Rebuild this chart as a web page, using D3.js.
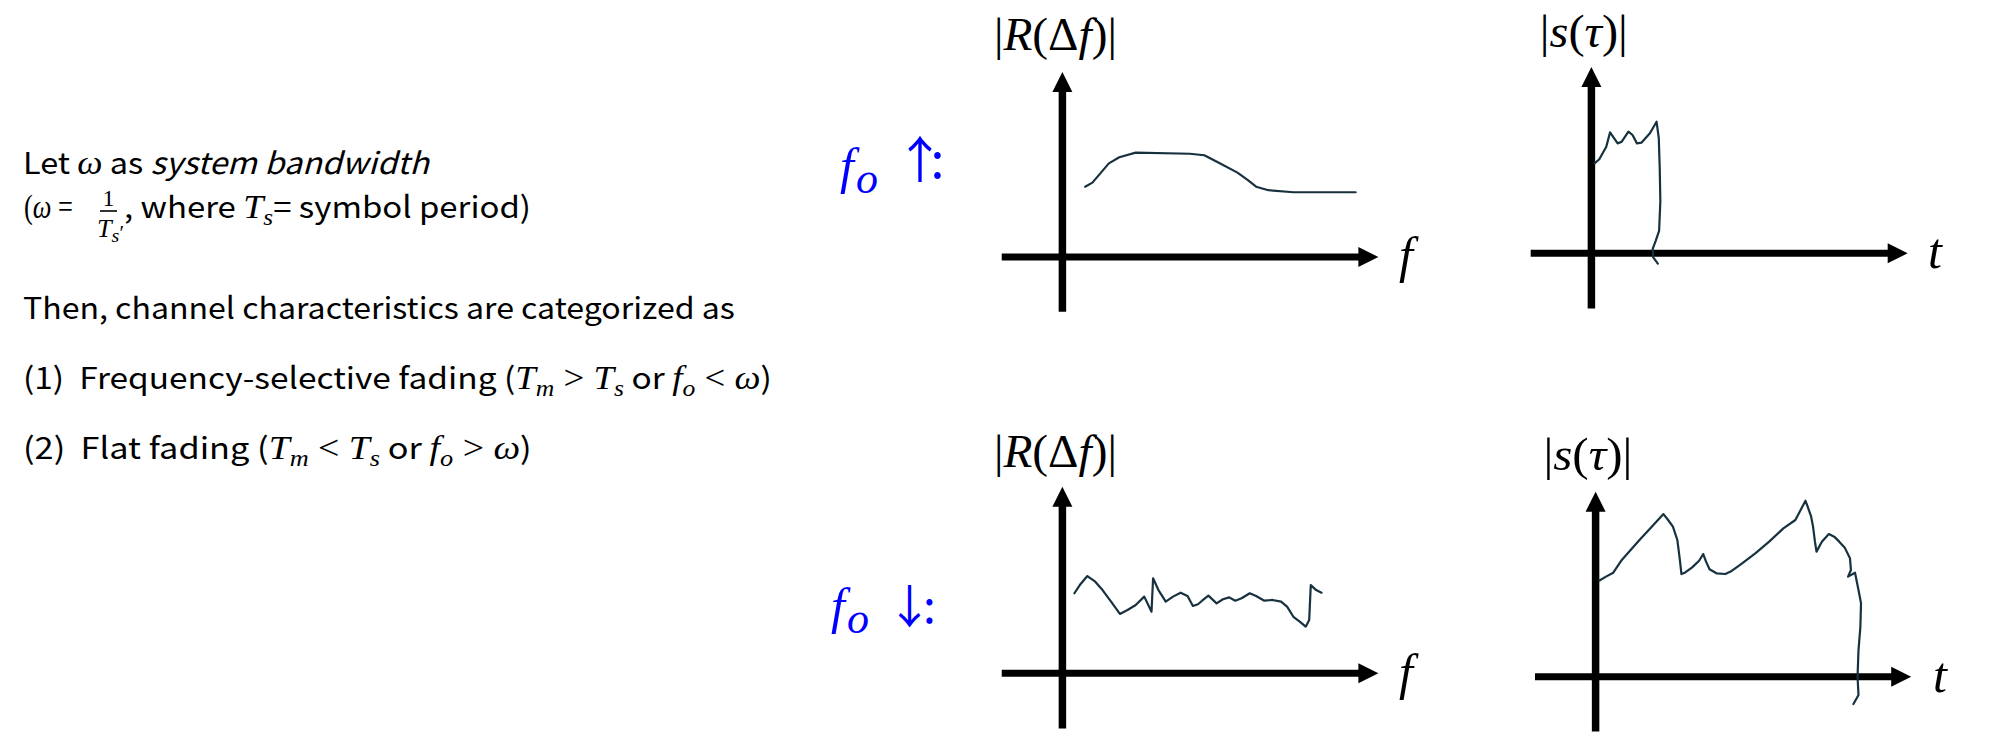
<!DOCTYPE html>
<html><head><meta charset="utf-8">
<script src="https://cdn.jsdelivr.net/npm/d3@7"></script>
<style>html,body{margin:0;padding:0;background:#fff;overflow:hidden}svg{display:block}</style>
</head><body>
<script>
// ---------- DATA (axis units: 0..100 along each axis, origin at the axes crossing) ----------
const upR_x = [7.2, 9.5, 14.7, 18.0, 23.2, 40.3, 44.9, 49.5, 55.4, 58.7, 61.3, 65.2, 73.1, 92.8];
const upR_y = [38.0, 40.2, 50.6, 53.9, 56.4, 55.8, 55.0, 51.0, 45.6, 41.6, 38.0, 36.1, 35.0, 35.0];

const upS_x = [1.0, 2.5, 4.7, 5.9, 8.3, 9.6, 11.7, 13.0, 14.4, 15.8, 18.5, 20.6, 21.3, 21.6, 21.8, 21.4, 20.3, 19.4, 19.5, 21.0];
const upS_y = [48.3, 50.5, 57.2, 64.9, 59.0, 59.9, 65.3, 63.5, 59.0, 59.4, 64.4, 70.6, 62.0, 46.0, 28.0, 12.0, 6.5, 2.5, -2.0, -5.5];

const downR_x = [3.8, 5.5, 7.9, 10.4, 12.7, 15.4, 18.2, 20.6, 23.2, 25.9, 28.2, 28.7, 30.4, 32.7, 35.0, 37.4, 39.6, 41.3, 42.9, 44.2, 46.2, 48.8, 50.8, 52.8, 54.7, 56.7, 59.3, 61.3, 63.9, 66.5, 69.2, 71.1, 73.1, 75.1, 77.0, 78.1, 78.6, 80.3, 82.0];
const downR_y = [42.9, 47.3, 52.1, 49.1, 44.6, 38.4, 31.8, 33.9, 36.6, 41.1, 33.0, 50.9, 44.6, 38.4, 41.1, 43.2, 41.4, 36.1, 37.0, 38.9, 41.6, 37.5, 39.7, 40.7, 38.9, 40.2, 42.9, 41.4, 38.9, 39.3, 38.4, 35.7, 30.3, 27.7, 25.0, 28.6, 47.3, 44.6, 43.2];

const downS_x = [1.1, 3.3, 5.6, 8.3, 11.1, 13.9, 17.8, 21.5, 22.8, 24.5, 25.9, 26.7, 27.2, 28.3, 30.6, 32.8, 34.1, 35.0, 36.1, 38.3, 41.1, 42.8, 46.1, 50.6, 55.0, 59.5, 63.3, 66.5, 67.2, 68.3, 68.9, 69.5, 70.0, 71.7, 73.9, 75.6, 77.2, 78.9, 80.6, 80.9, 80.0, 82.2, 83.3, 84.1, 83.9, 83.3, 83.0, 83.3, 81.7];
const downS_y = [51.9, 54.1, 56.2, 63.1, 68.5, 73.9, 81.1, 87.9, 85.1, 81.1, 73.9, 63.1, 55.5, 56.2, 59.1, 62.7, 66.3, 62.2, 58.1, 55.9, 55.5, 56.8, 60.9, 66.7, 73.0, 80.2, 84.7, 95.1, 91.9, 86.5, 81.1, 73.0, 67.6, 73.0, 77.1, 75.7, 73.0, 69.9, 64.0, 57.7, 54.1, 56.2, 46.9, 39.7, 27.0, 14.4, 0, -9.9, -14.8];

const yLabels = ["|R(Δf)|", "|s(τ)|", "|R(Δf)|", "|s(τ)|"];
const xLabels = ["f", "t", "f", "t"];
const rowLabels = ["↑:", "↓:"];

// ---------- LAYOUT ----------
const W = 2000, H = 733;
const svg = d3.select("body").append("svg").attr("width", W).attr("height", H);
svg.append("rect").attr("width", W).attr("height", H).attr("fill", "#fff");

const SANS = "'Noto Sans CJK KR','Noto Sans',sans-serif";
const SERIF = "'Liberation Serif','DejaVu Serif',serif";
const INK = "#17313f";
const BLUE = "#0000ff";

function rich(x, y, parts, opt) {
  const t = svg.append("text").attr("x", x).attr("y", y)
    .style("white-space", "pre").attr("fill", opt.fill || "#000");
  parts.forEach(p => {
    const s = t.append("tspan").text(p.t)
      .attr("font-family", p.m ? SERIF : SANS)
      .attr("font-size", p.s || (p.m ? opt.ms : opt.ts));
    if (p.i) s.attr("font-style", "italic");
    if (p.b) s.attr("font-weight", "bold");
    if (p.x !== undefined) s.attr("x", p.x);
    if (p.y !== undefined) s.attr("y", p.y);
    if (p.dy) s.attr("dy", p.dy);
    if (p.dx) s.attr("dx", p.dx);
  });
  if (opt.w) {
    const bb = t.node().getBBox();
    const k = opt.w / bb.width;
    const L = opt.cx !== undefined ? opt.cx - opt.w / 2 : x;
    t.attr("transform", `translate(${L - k * bb.x},0) scale(${k},1)`);
  }
  return t;
}

// ---------- LEFT TEXT ----------
const TS = 30, MS = 33, SS = 23, SD = 7;
rich(23, 174, [{t: "Let "}, {t: "ω", m: 1, i: 1}, {t: " as "}, {t: "system bandwidth", i: 1}],
  {ts: TS, ms: MS, w: 408});

// line 2 with fraction
rich(24, 218, [{t: "(", m: 1, s: 33}, {t: "ω", m: 1, i: 1}, {t: " =", m: 1}], {ts: TS, ms: MS, w: 49});
svg.append("text").attr("x", 108.5).attr("y", 206).attr("text-anchor", "middle")
  .attr("font-family", SERIF).attr("font-size", 24).text("1");
svg.append("line").attr("x1", 100).attr("x2", 117).attr("y1", 211).attr("y2", 211)
  .attr("stroke", "#000").attr("stroke-width", 1.6);
rich(97, 237, [{t: "T", m: 1, i: 1}, {t: "s", m: 1, i: 1, s: 19, dy: 5}, {t: "′", m: 1, s: 20, dy: -2}], {ts: TS, ms: 25, w: 27});
rich(124, 218, [{t: ", where "}, {t: "T", m: 1, i: 1}, {t: "s", m: 1, i: 1, s: SS, dy: SD}, {t: "= symbol period)", dy: -SD}],
  {ts: TS, ms: MS, w: 407});

rich(23, 319, [{t: "Then, channel characteristics are categorized as"}], {ts: TS, ms: MS, w: 712});

rich(23, 389, [{t: "(1)  Frequency-selective fading ("},
  {t: "T", m: 1, i: 1}, {t: "m", m: 1, i: 1, s: SS, dy: SD}, {t: " > ", m: 1, dy: -SD},
  {t: "T", m: 1, i: 1}, {t: "s", m: 1, i: 1, s: SS, dy: SD}, {t: " or ", dy: -SD},
  {t: "f", m: 1, i: 1}, {t: "o", m: 1, i: 1, s: SS, dy: SD}, {t: " < ", m: 1, dy: -SD},
  {t: "ω", m: 1, i: 1}, {t: ")"}], {ts: TS, ms: MS, w: 749});

rich(23, 459, [{t: "(2)  Flat fading ("},
  {t: "T", m: 1, i: 1}, {t: "m", m: 1, i: 1, s: SS, dy: SD}, {t: " < ", m: 1, dy: -SD},
  {t: "T", m: 1, i: 1}, {t: "s", m: 1, i: 1, s: SS, dy: SD}, {t: " or ", dy: -SD},
  {t: "f", m: 1, i: 1}, {t: "o", m: 1, i: 1, s: SS, dy: SD}, {t: " > ", m: 1, dy: -SD},
  {t: "ω", m: 1, i: 1}, {t: ")"}], {ts: TS, ms: MS, w: 509});

// ---------- ROW LABELS (blue) ----------
const rows = [
  {fx: 840, fy: 183, ox: 856, oy: 193, ac: 920, cc: 937.5, ay: 178, fs: 50},
  {fx: 831, fy: 623, ox: 847, oy: 633, ac: 909.5, cc: 929.5, ay: 623, fs: 46}
];
rows.forEach((r, i) => {
  rich(r.fx, r.fy, [
    {t: "f", m: 1, i: 1, s: 50},
    {t: "o", m: 1, i: 1, s: 44, x: r.ox, y: r.oy}
  ], {fill: BLUE, ts: 44, ms: 50});
  // arrow + colon in one run; spacing tuned so that glyph centres land where they should
  const t = svg.append("text").attr("y", r.ay).attr("fill", BLUE)
    .attr("font-family", SANS).attr("font-size", r.fs).text(rowLabels[i]);
  const n = t.node();
  const a = n.getSubStringLength(0, 1), c = n.getSubStringLength(1, 1);
  const ls = (r.cc - r.ac) - a / 2 - c / 2;
  t.style("letter-spacing", ls + "px").attr("x", r.ac - a / 2);
});

// ---------- PANELS ----------
const panels = [
  {ox: 1062.4, oy: 257,   tx: 1378.4, ty: 72,    xs: upR_x,   ys: upR_y,   lab: {cx: 1055.5, y: 50,  w: 123}, xl: {x: 1399, y: 272, s: 50}},
  {ox: 1591.4, oy: 253.3, tx: 1907.7, ty: 67,    xs: upS_x,   ys: upS_y,   lab: {cx: 1583.8, y: 47,  w: 88},  xl: {x: 1928, y: 268, s: 50}},
  {ox: 1062.4, oy: 673.3, tx: 1378.4, ty: 486.7, xs: downR_x, ys: downR_y, lab: {cx: 1055.5, y: 467, w: 123}, xl: {x: 1399, y: 689, s: 50}},
  {ox: 1595.6, oy: 676.7, tx: 1911.2, ty: 491.7, xs: downS_x, ys: downS_y, lab: {cx: 1587.9, y: 470, w: 89},  xl: {x: 1933, y: 692, s: 50}}
];
const HEAD = 20, HALF = 10;

panels.forEach((p, i) => {
  const x = d3.scaleLinear().domain([0, 100]).range([p.ox, p.tx]);
  const y = d3.scaleLinear().domain([0, 100]).range([p.oy, p.ty]);
  const g = svg.append("g");
  // horizontal axis
  g.append("line").attr("x1", x(-19.2)).attr("x2", x(100) - HEAD + 1).attr("y1", y(0)).attr("y2", y(0))
    .attr("stroke", "#000").attr("stroke-width", 7);
  g.append("path").attr("d", `M${x(100)},${y(0)} L${x(100) - HEAD},${y(0) - HALF} L${x(100) - HEAD},${y(0) + HALF} Z`).attr("fill", "#000");
  // vertical axis
  g.append("line").attr("x1", x(0)).attr("x2", x(0)).attr("y1", y(-29.6)).attr("y2", y(100) + HEAD - 1)
    .attr("stroke", "#000").attr("stroke-width", 7.5);
  g.append("path").attr("d", `M${x(0)},${y(100)} L${x(0) - HALF},${y(100) + HEAD} L${x(0) + HALF},${y(100) + HEAD} Z`).attr("fill", "#000");
  // curve
  const pts = p.xs.map((v, k) => [v, p.ys[k]]);
  g.append("path").datum(pts)
    .attr("d", d3.line().x(d => x(d[0])).y(d => y(d[1])).curve(d3.curveLinear))
    .attr("fill", "none").attr("stroke", INK).attr("stroke-width", 2.2)
    .attr("stroke-linejoin", "round").attr("stroke-linecap", "round");
  // y label
  const isR = yLabels[i].indexOf("R") >= 0;
  const parts = isR
    ? [{t: "|", m: 1}, {t: "R", m: 1, i: 1}, {t: "(", m: 1}, {t: "Δ", m: 1}, {t: "f", m: 1, i: 1}, {t: ")", m: 1}, {t: "|", m: 1}]
    : [{t: "|", m: 1}, {t: "s", m: 1, i: 1}, {t: "(", m: 1}, {t: "τ", m: 1, i: 1}, {t: ")", m: 1}, {t: "|", m: 1}];
  rich(p.lab.cx, p.lab.y, parts, {ms: 47, ts: 47, w: p.lab.w, cx: p.lab.cx});
  // x label
  svg.append("text").attr("x", p.xl.x).attr("y", p.xl.y)
    .attr("font-family", SERIF).attr("font-style", "italic").attr("font-size", p.xl.s).text(xLabels[i]);
});
</script>
</body></html>
